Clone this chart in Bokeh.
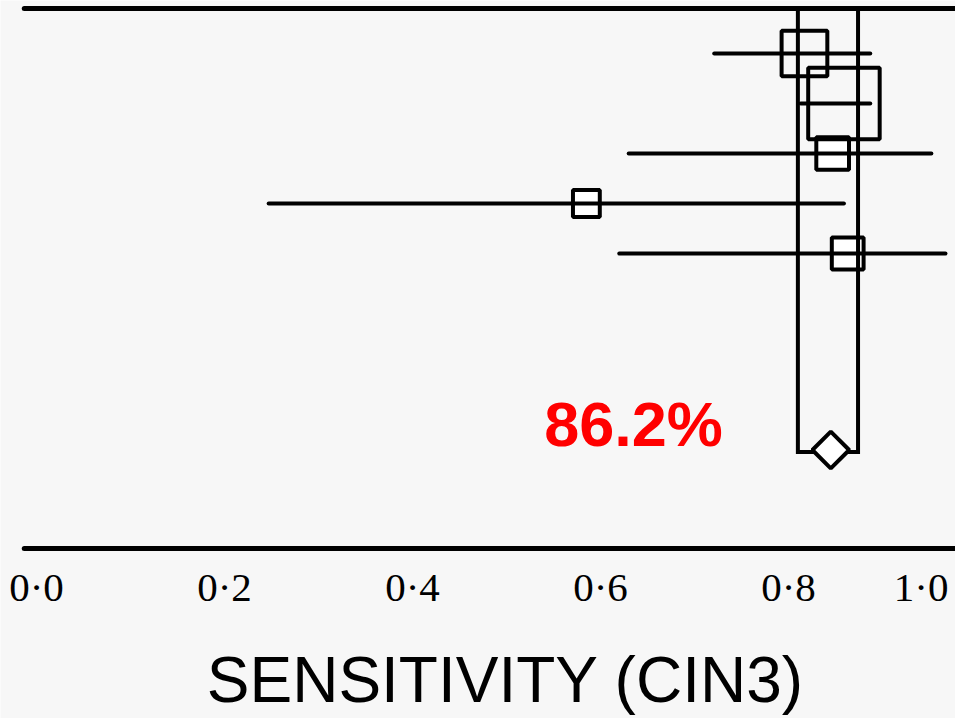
import math
from bokeh.plotting import figure
from bokeh.models import Range1d, ColumnDataSource
from bokeh.core.properties import value
from bokeh.embed import file_html
from bokeh.resources import INLINE

# ---- data ----
study_rows = [1, 2, 3, 4, 5]
study_est = [0.834, 0.876, 0.864, 0.602, 0.880]
study_lo = [0.738, 0.830, 0.647, 0.264, 0.637]
study_hi = [0.904, 0.904, 0.969, 0.876, 0.984]
study_weight = [20.9, 51.1, 10.7, 7.2, 10.1]   # percent weight -> box area

pooled_est = 0.862
pooled_lo = 0.827
pooled_hi = 0.891
pooled_row = 8.93

tick_values = [0.0, 0.2, 0.4, 0.6, 0.8, 1.0]
tick_labels = ["0·0", "0·2", "0·4", "0·6", "0·8", "1·0"]
x_title = "SENSITIVITY (CIN3)"

top_row = 0.1
bottom_row = 10.9

BG = "#f7f7f7"

p = figure(width=955, height=718, output_backend="svg", toolbar_location=None,
           x_range=Range1d(-20 / 940, 935 / 940), y_range=Range1d(14.3, -0.06),
           min_border=0, min_border_left=0, min_border_right=0,
           min_border_top=0, min_border_bottom=0)
p.axis.visible = False
p.grid.visible = False
p.outline_line_color = None
p.background_fill_color = BG
p.border_fill_color = BG

# frame lines (top and bottom)
p.segment(x0=[0.004, 0.004], x1=[1.0, 1.0], y0=[top_row, bottom_row], y1=[top_row, bottom_row],
          line_color="black", line_width=5, line_cap="round")

# study boxes
box_size = [10 * math.sqrt(w) for w in study_weight]
box_fill = [0, 0, 1, 1, 1]
src = ColumnDataSource(dict(x=study_est, y=study_rows, size=box_size, fa=box_fill,
                            lo=study_lo, hi=study_hi))
p.scatter("x", "y", source=src, marker="square", size="size", fill_color="white",
          fill_alpha="fa", line_color=None)

# confidence intervals
p.segment(x0="lo", x1="hi", y0="y", y1="y", source=src, line_color="black",
          line_width=4, line_cap="round")

# pooled bracket
p.line(x=[pooled_lo, pooled_lo, pooled_hi, pooled_hi],
       y=[top_row, pooled_row + 0.04, pooled_row + 0.04, top_row],
       line_color="black", line_width=4, line_join="miter")

# box outlines
p.scatter("x", "y", source=src, marker="square", size="size", fill_alpha=0,
          line_color="black", line_width=4)

# pooled diamond
p.scatter(x=[pooled_est], y=[pooled_row], marker="square", size=26, angle=math.pi / 4,
          fill_color="white", line_color="black", line_width=4)

# pooled text
p.text(x=[pooled_est], y=[pooled_row], text=[f"{pooled_est * 100:.1f}%"],
       text_align="right", text_baseline="alphabetic", x_offset=-108, y_offset=-26,
       text_font=value("Liberation Sans"), text_font_style="bold",
       text_font_size="63px", text_color="#ff0000")

# tick labels
p.text(x=tick_values[:-1], y=[bottom_row] * (len(tick_values) - 1), text=tick_labels[:-1],
       text_align="center", text_baseline="alphabetic", x_offset=16, y_offset=38,
       text_font=value("Liberation Serif"), text_font_size="41px", text_color="black")
p.text(x=tick_values[-1:], y=[bottom_row], text=tick_labels[-1:],
       text_align="right", text_baseline="alphabetic", x_offset=-12, y_offset=38,
       text_font=value("Liberation Serif"), text_font_size="41px", text_color="black")

# axis title
p.text(x=[0.5], y=[bottom_row], text=[x_title], text_align="center",
       text_baseline="alphabetic", x_offset=15, y_offset=131,
       text_font=value("Liberation Sans"), text_font_size="64px", text_color="black")

open("out.html", "w").write(file_html(p, INLINE))
